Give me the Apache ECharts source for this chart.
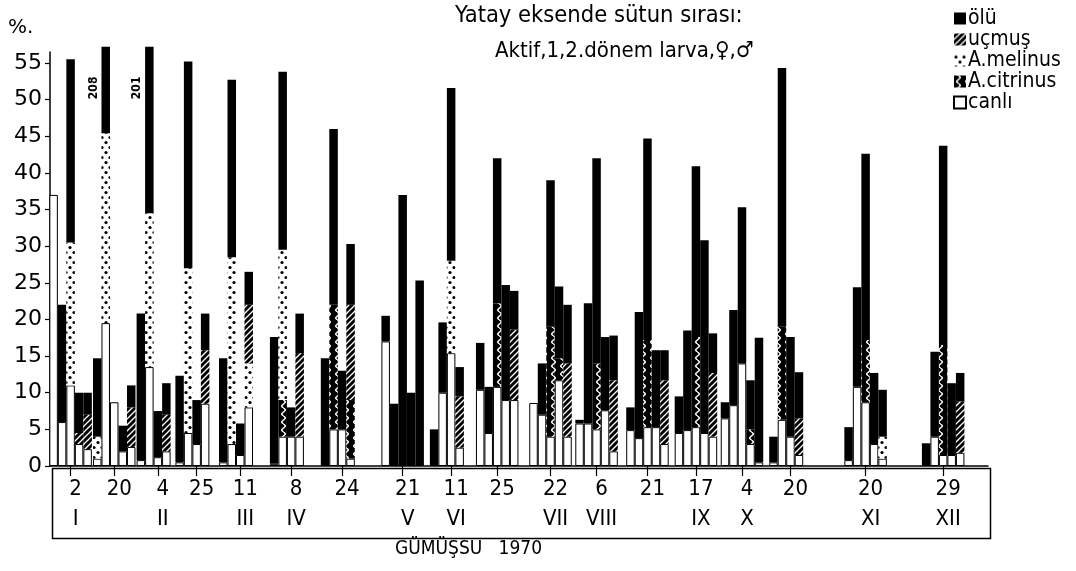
<!DOCTYPE html>
<html>
<head>
<meta charset="utf-8">
<script src="https://cdn.jsdelivr.net/npm/echarts@6/dist/echarts.min.js"></script>
<style>
  html, body { margin: 0; padding: 0; background: #fff; }
  #chart { width: 1076px; height: 571px; }
</style>
</head>
<body>
<div id="chart"></div>
<script>
// Sampling dates: day, Roman month (shown under the first date of each month)
const dayLabels   = ['2', '20', '4', '25', '11', '8', '24', '21', '11', '25', '22', '6', '21', '17', '4', '20', '20', '29'];
const monthLabels = ['I', '', 'II', '', 'III', 'IV', '', 'V', 'VI', '', 'VII', 'VIII', '', 'IX', 'X', '', 'XI', 'XII'];
// Position of each sampling on the drawn date scale (day of year)
const axisDay = [2, 20, 38, 54, 72, 93, 114, 139, 159, 178, 200, 219, 240, 260, 279, 299, 330, 362];
// Extent of the drawn date scale (day of year)
const scaleStart = -6, scaleEnd = 380;

// Column order inside each date group
const stages = ['Aktif', '1. dönem larva', '2. dönem larva', '♀', '♂'];

// Percentages per date (rows) and column (Aktif, 1., 2. dönem larva, ♀, ♂)
const canli = [
  [37, 6, 11, 3, 2.3], [1, 19.5, 8.7, 2, 2.6], [0.8, 13.5, 1.2, 2, 0], [0.5, 4.5, 3, 8.5, 0],
  [0.5, 3, 1.5, 8, 0], [0.3, 4, 4, 4, 0], [0, 5, 5, 1, 0], [17, 0, 0, 0, 0],
  [0, 10, 15.4, 2.5, 0], [10.4, 4.5, 10.8, 9, 9], [8.6, 7, 4, 11.7, 4], [5.8, 5.8, 5, 7.6, 2],
  [4.9, 3.8, 5.3, 5.3, 3], [4.5, 4.9, 5.3, 4.5, 4], [6.5, 8.3, 14, 3, 0.5], [0.5, 6.3, 4, 1.5, 0],
  [0.8, 10.8, 8.7, 3, 1], [0, 4, 1.5, 1.5, 1.8]
];
const citrinus = [
  [0, 0, 0, 0, 0], [0, 0, 0, 0, 0], [0, 0, 0, 0, 0], [0, 0, 0, 0, 0],
  [0, 0, 0, 0, 0], [0, 5, 0, 0, 0], [0, 17, 0, 8, 0], [0, 0, 0, 0, 0],
  [0, 0, 0, 0, 0], [0, 0, 11.4, 0, 0], [0, 0, 15, 3, 0], [0, 0, 9, 0, 0],
  [0, 0, 11.9, 0, 0], [0, 0, 12.3, 0, 0], [0, 0, 0, 2, 0], [0, 12.7, 0, 0, 0],
  [0, 0, 8.5, 0, 0], [0, 0, 15, 0, 0]
];
const melinus = [
  [0, 0, 19.5, 0, 0], [3, 25.9, 0, 0, 0], [0, 21, 0, 0, 0], [0, 22.5, 0, 0, 0],
  [0, 25.5, 0, 6, 0], [0, 20.5, 0, 0, 0], [0, 0, 0, 0, 0], [0, 0, 0, 0, 0],
  [0, 0, 12.6, 0, 0], [0, 0, 0, 0, 0], [0, 0, 0, 0, 0], [0, 0, 0, 0, 0],
  [0, 0, 0, 0, 0], [0, 0, 0, 0, 0], [0, 0, 0, 0, 0], [0, 0, 0, 0, 0],
  [0, 0, 0, 0, 3], [0, 0, 0, 0, 0]
];
const ucmus = [
  [0, 0, 0, 1.5, 4.7], [0, 0, 0, 0, 5.4], [0, 0, 0, 5, 0], [0, 0, 0, 7.3, 0],
  [0, 0, 0, 8, 0], [0, 0, 0, 11.4, 0], [0, 0, 0, 13, 0], [0, 0, 0, 0, 0],
  [0, 0, 0, 7, 0], [0, 0, 0, 0, 9.6], [0, 0, 0, 0, 10], [0, 0, 0, 0, 9.7],
  [0, 0, 0, 0, 8.7], [0, 0, 0, 0, 8.7], [0, 0, 0, 0, 0], [0, 0, 0, 5, 0],
  [0, 0, 0, 0, 0], [0, 0, 0, 0, 7]
];
const olu = [
  [0, 16, 25, 5.5, 3], [10.7, 11.8, 0, 3.5, 3], [20, 22.7, 6.3, 4.3, 0], [11.8, 28.2, 6, 5, 0],
  [14.2, 24.2, 4.3, 4.5, 0], [17.3, 24.3, 4, 5.4, 0], [14.7, 24, 8, 8.3, 0], [3.5, 8.5, 37, 10, 25.3],
  [5, 9.6, 23.6, 4, 0], [6.4, 6.3, 19.8, 15.7, 5.3], [0, 7, 20, 9.8, 8], [0.5, 16.4, 28, 10, 6.1],
  [3.1, 17.2, 27.5, 10.5, 4.1], [5, 13.6, 23.3, 26.3, 5.4], [2.2, 13, 21.3, 6.7, 17], [3.5, 35.3, 13.6, 6.3, 0],
  [4.5, 13.6, 25.4, 9.7, 6.4], [3.1, 11.6, 27.2, 9.8, 3.9]
];
// Sample sizes written beside the tallest columns
const countNote = ['', '208', '201', '', '', '', '', '', '', '', '', '', '', '', '', '', '', ''];

const yTicks = [0, 5, 10, 15, 20, 25, 30, 35, 40, 45, 50, 55];

const FONT = "'DejaVu Sans Condensed', 'Liberation Sans Narrow', 'DejaVu Sans', sans-serif";
const FONT_WIDE = "'DejaVu Sans', sans-serif";
const GRID = { left: 50, right: 88, top: 52, bottom: 105 };

// One category per day of the drawn date scale; samplings sit on their day
const scaleDays = [];
for (let d = scaleStart; d <= scaleEnd; d++) scaleDays.push(d);
const sampleAt = {};
axisDay.forEach((d, i) => { sampleAt[d - scaleStart] = i; });
const isSample = (idx) => sampleAt[idx] !== undefined;

// Small tiled fills for the patterned categories
function pattern(w, h, draw) {
  const c = document.createElement('canvas');
  c.width = w; c.height = h;
  const g = c.getContext('2d');
  draw(g, w, h);
  return { image: c, repeat: 'repeat' };
}
const dotsFill = pattern(8, 10, (g) => {
  g.fillStyle = '#fff'; g.fillRect(0, 0, 8, 10);
  g.fillStyle = '#000';
  g.beginPath(); g.arc(2, 2.5, 1.6, 0, Math.PI * 2); g.fill();
  g.beginPath(); g.arc(6, 7.5, 1.6, 0, Math.PI * 2); g.fill();
});
const waveFill = pattern(9, 8, (g) => {
  g.fillStyle = '#000'; g.fillRect(0, 0, 9, 8);
  g.strokeStyle = '#fff'; g.lineWidth = 1.6;
  g.beginPath();
  g.moveTo(4.5, 0);
  g.bezierCurveTo(7, 2, 7, 2, 4.5, 4);
  g.bezierCurveTo(2, 6, 2, 6, 4.5, 8);
  g.stroke();
});
const hatchFill = pattern(6, 6, (g) => {
  g.fillStyle = '#000'; g.fillRect(0, 0, 6, 6);
  g.strokeStyle = '#fff'; g.lineWidth = 1.3;
  g.beginPath();
  g.moveTo(0, 6); g.lineTo(6, 0);
  g.moveTo(-3, 3); g.lineTo(3, -3);
  g.moveTo(3, 9); g.lineTo(9, 3);
  g.stroke();
});

// Stacked from the bottom up
const categories = [
  { name: 'canlı', rows: canli, style: { color: '#fff', borderColor: '#000', borderWidth: 1 } },
  { name: 'A.citrinus', rows: citrinus, style: { color: waveFill } },
  { name: 'A.melinus', rows: melinus, style: { color: dotsFill } },
  { name: 'uçmuş', rows: ucmus, style: { color: hatchFill } },
  { name: 'ölü', rows: olu, style: { color: '#000' } }
];

function columnData(rows, s) {
  return scaleDays.map((d, idx) => {
    const i = sampleAt[idx];
    if (i === undefined) return '-';
    const v = rows[i][s];
    return v > 0 ? v : '-';
  });
}

const series = [];
stages.forEach((stage, s) => {
  categories.forEach((cat) => {
    const item = {
      type: 'bar',
      name: cat.name,
      stack: stage,
      barWidth: 8.5,
      barGap: '0%',
      clip: false,
      itemStyle: cat.style,
      emphasis: { disabled: true },
      data: columnData(cat.rows, s)
    };
    if (cat.name === 'ölü' && s === 1) {
      item.label = {
        show: true,
        position: [-8, 41],
        rotate: 90,
        align: 'center',
        verticalAlign: 'middle',
        fontSize: 12,
        fontWeight: 'bold',
        fontFamily: FONT,
        color: '#000',
        formatter: (p) => (isSample(p.dataIndex) ? countNote[sampleAt[p.dataIndex]] : '')
      };
    }
    series.push(item);
  });
});

const chart = echarts.init(document.getElementById('chart'), null, { renderer: 'canvas' });
const W = 1076, H = 571;

chart.setOption({
  animation: false,
  backgroundColor: '#fff',
  grid: GRID,
  title: [
    { text: 'Yatay eksende sütun sırası:', left: 455, top: 4, padding: 0,
      textStyle: { fontFamily: FONT, fontSize: 23.5, fontWeight: 'normal', color: '#000' } },
    { text: 'Aktif,1,2.dönem larva,♀,♂', left: 495, top: 40, padding: 0,
      textStyle: { fontFamily: FONT, fontSize: 22, fontWeight: 'normal', color: '#000' } },
    { text: '%.', left: 8, top: 18, padding: 0,
      textStyle: { fontFamily: FONT_WIDE, fontSize: 20, fontWeight: 'normal', color: '#000' } },
    { text: 'GÜMÜŞSU   1970', left: 395, top: 540, padding: 0,
      textStyle: { fontFamily: FONT, fontSize: 19, fontWeight: 'normal', color: '#000' } }
  ],
  legend: {
    orient: 'vertical',
    left: 953,
    top: 8,
    itemWidth: 12,
    itemHeight: 12,
    itemGap: 0,
    padding: 0,
    selectedMode: false,
    icon: 'rect',
    textStyle: { fontFamily: FONT, fontSize: 21, lineHeight: 20, color: '#000', padding: [0, 0, 0, -3] },
    data: ['ölü', 'uçmuş', 'A.melinus', 'A.citrinus', 'canlı']
  },
  xAxis: {
    type: 'category',
    data: scaleDays,
    axisLine: { show: true, lineStyle: { color: '#000', width: 1.5 } },
    axisTick: {
      show: true,
      alignWithLabel: true,
      interval: (idx) => isSample(idx),
      length: 10,
      lineStyle: { color: '#000', width: 1.2 }
    },
    axisLabel: {
      interval: (idx) => isSample(idx),
      margin: 8,
      padding: [0, 0, 0, 10],
      fontFamily: FONT,
      fontSize: 22,
      lineHeight: 30,
      color: '#000',
      formatter: (v, idx) => {
        const i = sampleAt[idx];
        return i === undefined ? '' : dayLabels[i] + '\n' + monthLabels[i];
      }
    },
    splitLine: { show: false }
  },
  yAxis: {
    type: 'value',
    min: 0,
    max: 56.5,
    axisLine: { show: true, lineStyle: { color: '#000', width: 1.5 } },
    axisTick: { show: true, customValues: yTicks, length: 5, lineStyle: { color: '#000', width: 1.2 } },
    axisLabel: { customValues: yTicks, margin: 8, fontFamily: FONT_WIDE, fontSize: 22, color: '#000' },
    splitLine: { show: false }
  },
  graphic: [
    {
      type: 'rect',
      left: GRID.left,
      top: H - GRID.bottom,
      shape: { width: W - GRID.left - GRID.right, height: 70 },
      style: { fill: 'none', stroke: '#000', lineWidth: 1.5 },
      silent: true
    }
  ],
  series: series
});
</script>
</body>
</html>
